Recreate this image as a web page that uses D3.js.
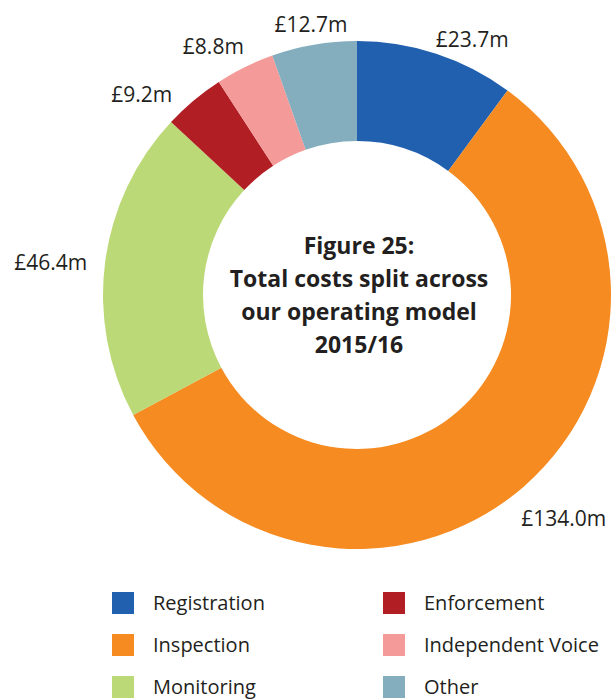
<!DOCTYPE html>
<html>
<head>
<meta charset="utf-8">
<script src="https://cdn.jsdelivr.net/npm/d3@7"></script>
<style>
  html, body { margin: 0; padding: 0; background: #fff; }
  svg { display: block; }
  text { font-family: "Open Sans", "DejaVu Sans", sans-serif; fill: #231f20; }
</style>
</head>
<body>
<svg id="chart" width="616" height="699"></svg>
<script>
// Operating model cost split, 2015/16 (£m)
const categories = ["Registration", "Inspection", "Monitoring", "Enforcement", "Independent Voice", "Other"];
const values = [23.7, 134.0, 46.4, 9.2, 8.8, 12.7];
const valueLabels = ["£23.7m", "£134.0m", "£46.4m", "£9.2m", "£8.8m", "£12.7m"];
const colors = ["#2160ae", "#f58b21", "#bcd977", "#b11e24", "#f49a98", "#84adbd"];
const titleLines = ["Figure 25:", "Total costs split across", "our operating model", "2015/16"];

// Layout
const W = 616, H = 699;
const cx = 357, cy = 295;
const outerR = 254, innerR = 154;
const labelR = 272;
// fine placement of each value label relative to its slice's mid-angle point
const labelNudge = [[-6, 3], [-14, 18], [0, 2], [-10, 8], [7, -5], [0, -2]];

const svg = d3.select("#chart");
const data = categories.map((c, i) => ({ name: c, value: values[i], label: valueLabels[i], color: colors[i] }));

const pie = d3.pie().value(d => d.value).sort(null);
const arc = d3.arc().innerRadius(innerR).outerRadius(outerR);
const arcs = pie(data);

const g = svg.append("g").attr("transform", `translate(${cx},${cy})`);

g.selectAll("path.slice")
  .data(arcs)
  .join("path")
  .attr("class", "slice")
  .attr("d", arc)
  .attr("fill", d => d.data.color);

// Value labels outside the ring
g.selectAll("text.value")
  .data(arcs)
  .join("text")
  .attr("class", "value")
  .attr("font-size", 21)
  .attr("dy", "0.36em")
  .each(function (d, i) {
    const a = (d.startAngle + d.endAngle) / 2;
    const s = Math.sin(a);
    const x = labelR * s + labelNudge[i][0];
    const y = -labelR * Math.cos(a) + labelNudge[i][1];
    const anchor = Math.abs(s) < 0.25 ? "middle" : (s > 0 ? "start" : "end");
    d3.select(this).attr("x", x).attr("y", y).attr("text-anchor", anchor).text(d.data.label);
  });

// Title in the hole
const title = g.append("text")
  .attr("text-anchor", "middle")
  .attr("font-size", 23)
  .attr("font-weight", "bold");
title.selectAll("tspan")
  .data(titleLines)
  .join("tspan")
  .attr("x", 2)
  .attr("y", (d, i) => -41 + i * 33)
  .text(d => d);

// Legend: two columns of three
const legend = svg.append("g");
const colX = [112, 383], rowY0 = 592, rowStep = 42, sw = 22;
const items = legend.selectAll("g.item")
  .data(data)
  .join("g")
  .attr("class", "item")
  .attr("transform", (d, i) => `translate(${colX[Math.floor(i / 3)]},${rowY0 + (i % 3) * rowStep})`);
items.append("rect").attr("width", sw).attr("height", sw).attr("fill", d => d.color);
items.append("text")
  .attr("x", 41)
  .attr("y", sw / 2)
  .attr("dy", "0.36em")
  .attr("font-size", 20)
  .text(d => d.name);
</script>
</body>
</html>
